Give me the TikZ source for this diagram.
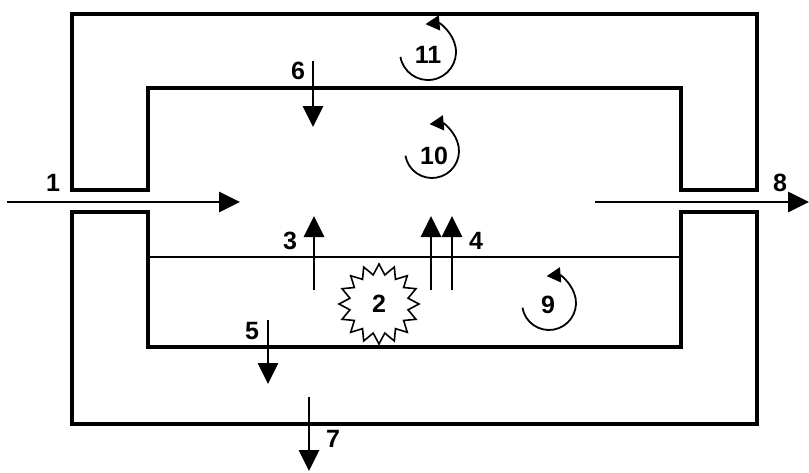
\documentclass[tikz,border=0pt]{standalone}
\usepackage{fontspec}
\setmainfont{Liberation Sans}
\usepackage{tikz}
\usetikzlibrary{arrows.meta, positioning, calc, shapes.geometric}
\tikzset{
  wall/.style={line width=3.6pt, line join=miter},
  flow/.style={line width=2.8pt, -{Triangle[length=21pt,width=20pt]}},
  turn/.style={line width=1.8pt, -{Triangle[length=14pt,width=15pt]}},
  num/.style={font=\fontsize{25}{29}\selectfont\bfseries, inner sep=0pt}
}

\begin{document}
\begin{tikzpicture}[x=1pt, y=-1pt]
  \useasboundingbox (0,0) rectangle (809,472);
  % jacket, upper and lower halves
  \draw[wall] (72,14) -- (757,14) -- (757,190) -- (681,190) -- (681,88)
    -- (148,88) -- (148,190) -- (72,190) -- cycle;
  \draw[wall] (72,212) -- (148,212) -- (148,347) -- (681,347) -- (681,212)
    -- (757,212) -- (757,424) -- (72,424) -- cycle;
  % liquid level
  \draw[line width=1.8pt] (148,257) -- (681,257);

  % feed and outlet
  \coordinate (feed) at (7,202);
  \coordinate (feedend) at (240,202);
  \draw[flow] (feed) -- (feedend);
  \node[num] (l1) at (53,183) {1};
  \coordinate (outlet) at (595,202);
  \coordinate (outletend) at (809,202);
  \draw[flow] (outlet) -- (outletend);
  \node[num] (l8) at (780,183) {8};

  % heat through walls
  \coordinate (top6) at (313,61);
  \coordinate (tip6) at (313,127);
  \draw[flow] (top6) -- (tip6);
  \node[num] (l6) at (298,71) {6};
  \coordinate (top5) at (268,320);
  \coordinate (tip5) at (268,384);
  \draw[flow] (top5) -- (tip5);
  \node[num] (l5) at (252,331) {5};
  \coordinate (top7) at (309,397);
  \coordinate (tip7) at (309,471);
  \draw[flow] (top7) -- (tip7);
  \node[num] (l7) at (333,439) {7};

  % evaporation from the liquid
  \coordinate (bot3) at (314,290);
  \coordinate (tip3) at (314,216);
  \draw[flow] (bot3) -- (tip3);
  \node[num] (l3) at (290,241) {3};
  \coordinate (bot4a) at (431,290);
  \coordinate (tip4a) at (431,216);
  \draw[flow] (bot4a) -- (tip4a);
  \coordinate (bot4b) at (452,290);
  \coordinate (tip4b) at (452,216);
  \draw[flow] (bot4b) -- (tip4b);
  \node[num] (l4) at (476,241) {4};

  % reaction
  \node[star, star points=16, star point ratio=1.35, draw, line width=1.6pt,
    minimum size=80pt, inner sep=0pt, font=\fontsize{25}{29}\selectfont\bfseries]
    (burst) at (379,304) {2};

  % mixing in each zone
  \node[num] (l11) at (428,55) {11};
  \draw[turn] ([shift={(170:28)}]428,52) arc[start angle=170, end angle=-95, radius=28];
  \node[num] (l10) at (434,156) {10};
  \draw[turn] ([shift={(170:27)}]432,151) arc[start angle=170, end angle=-95, radius=27];
  \node[num] (l9) at (548,305) {9};
  \draw[turn] ([shift={(170:27)}]549,303) arc[start angle=170, end angle=-95, radius=27];
\end{tikzpicture}
\end{document}
